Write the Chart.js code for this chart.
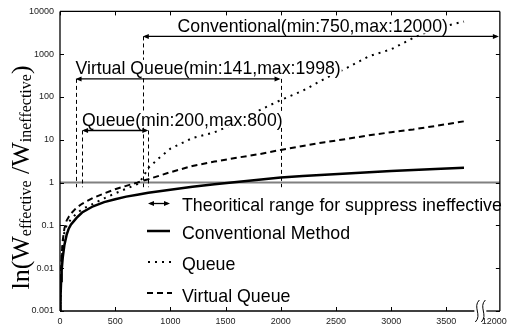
<!DOCTYPE html>
<html>
<head>
<meta charset="utf-8">
<script src="https://cdn.jsdelivr.net/npm/chart.js@4.4.0/dist/chart.umd.min.js"></script>
<style>
  html, body { margin: 0; padding: 0; background: #fff; }
</style>
</head>
<body>
<canvas id="chart" width="512" height="329"></canvas>
<script>
// window size (x) and the three methods (y, log scale)
const windowSizes = [2, 5, 10, 15, 25, 40, 60, 80, 100, 150, 200, 300, 400, 500, 600, 700, 750, 800, 900, 1000,
    1200, 1400, 1600, 1800, 2000, 2200, 2400, 2600, 2800, 3000, 3200, 3400, 3660];
const conventionalMethod = [0.001, 0.0022, 0.005, 0.009, 0.018, 0.035, 0.06, 0.085, 0.105, 0.15, 0.2, 0.28, 0.35, 0.41, 0.47, 0.52, 0.55, 0.58, 0.63, 0.68,
    0.8, 0.91, 1.03, 1.17, 1.32, 1.43, 1.53, 1.63, 1.74, 1.86, 1.97, 2.07, 2.22];
const queueMethod = [0.001, 0.0025, 0.007, 0.015, 0.035, 0.07, 0.1, 0.12, 0.14, 0.19, 0.24, 0.32, 0.43, 0.56, 0.72, 0.92, 1.3, 2.2, 3.8, 6.2,
    11, 15, 25, 48, 85, 140, 270, 480, 900, 1300, 2400, 4000, 5800];
const virtualQueueMethod = [0.001, 0.003, 0.009, 0.02, 0.045, 0.085, 0.13, 0.16, 0.19, 0.26, 0.32, 0.44, 0.56, 0.7, 0.84, 1.0, 1.1, 1.2, 1.45, 1.75,
    2.45, 3.1, 3.8, 4.6, 5.8, 7.2, 8.8, 10.5, 12.8, 15, 17.5, 21, 27];

// ticks
const xTickValues = [0, 500, 1000, 1500, 2000, 2500, 3000, 3500];
const xBreakLabel = '12000';
const yTickValues = [0.001, 0.01, 0.1, 1, 10, 100, 1000, 10000];

// theoretical ranges
const rangeNames = ['Conventional', 'Virtual Queue', 'Queue'];
const rangeMin = [750, 141, 200];
const rangeMax = [12000, 1998, 800];

const legendLabels = ['Theoritical range for suppress ineffective', 'Conventional Method', 'Queue', 'Virtual Queue'];

// layout bits (axis break, where arrows and labels sit)
const X_MAX = 3985;
const BREAK_TICK = 3935;
const rangeLevel = [2600, 265, 16.5];
const rangeTextAt = [1065, 141, 200];
const guideBottom = 0.78;

const SANS = '"Liberation Sans", Arial, sans-serif';
const SERIF = '"Liberation Serif", "Times New Roman", serif';

function toPoints(ys) {
    return windowSizes.map((w, i) => ({ x: w, y: ys[i] }));
}

function line(ctx, x1, y1, x2, y2) {
    ctx.beginPath();
    ctx.moveTo(x1, y1);
    ctx.lineTo(x2, y2);
    ctx.stroke();
}

function head(ctx, x, y, dir) {
    ctx.beginPath();
    ctx.moveTo(x, y);
    ctx.lineTo(x - dir * 6, y - 2.5);
    ctx.lineTo(x - dir * 6, y + 2.5);
    ctx.closePath();
    ctx.fill();
}

function arrow(ctx, x1, x2, y) {
    ctx.lineWidth = 1.3;
    line(ctx, x1 + 2, y, x2 - 2, y);
    head(ctx, x1, y, -1);
    head(ctx, x2, y, 1);
}

const decorations = {
    id: 'decorations',
    beforeDatasetsDraw(chart) {
        const { ctx, chartArea: a, scales: { x, y } } = chart;
        ctx.save();
        // gray reference line at 1
        ctx.strokeStyle = '#808080';
        ctx.lineWidth = 2;
        const y1 = y.getPixelForValue(1);
        line(ctx, a.left, y1, a.right, y1);

        // dashed guides of the ranges
        ctx.strokeStyle = '#000';
        ctx.lineWidth = 1;
        ctx.setLineDash([4, 3]);
        const yb = y.getPixelForValue(guideBottom);
        rangeMin.forEach((mn, i) => {
            const yl = y.getPixelForValue(rangeLevel[i]);
            [mn, rangeMax[i]].forEach(v => {
                if (v > X_MAX) return;
                const px = Math.round(x.getPixelForValue(v)) + 0.5;
                line(ctx, px, yl, px, yb);
            });
        });
        ctx.restore();
    },
    afterDatasetsDraw(chart) {
        const { ctx, chartArea: a, scales: { x, y } } = chart;
        ctx.save();
        ctx.fillStyle = '#000';
        ctx.strokeStyle = '#000';

        // range labels and arrows
        ctx.font = '17.7px ' + SANS;
        ctx.textBaseline = 'alphabetic';
        rangeNames.forEach((name, i) => {
            const text = name + '(min:' + rangeMin[i] + ',max:' + rangeMax[i] + ')';
            const yl = y.getPixelForValue(rangeLevel[i]);
            const tx = x.getPixelForValue(rangeTextAt[i]);
            const w = ctx.measureText(text).width;
            ctx.fillStyle = '#fff';
            ctx.fillRect(tx - 1, yl - 19, w + 2, 16);
            ctx.fillStyle = '#000';
            ctx.fillText(text, tx, yl - 4.5);
            const x1 = x.getPixelForValue(rangeMin[i]);
            const x2 = rangeMax[i] > X_MAX ? a.right - 1 : x.getPixelForValue(rangeMax[i]);
            arrow(ctx, x1, x2, yl);
        });

        // frame
        ctx.lineWidth = 1.3;
        line(ctx, a.left, a.top, a.left, a.bottom);
        line(ctx, a.left, a.top, a.right, a.top);
        line(ctx, a.right, a.top, a.right, a.bottom);
        const breakX = x.getPixelForValue(3790);
        line(ctx, a.left, a.bottom, breakX - 4, a.bottom);
        line(ctx, breakX + 8, a.bottom, a.right, a.bottom);

        // axis break marks
        ctx.lineWidth = 1;
        [breakX - 1, breakX + 5].forEach(bx => {
            ctx.beginPath();
            ctx.moveTo(bx + 2, a.bottom - 11);
            ctx.bezierCurveTo(bx - 5, a.bottom - 4, bx + 5, a.bottom + 4, bx - 2, a.bottom + 11);
            ctx.stroke();
        });

        // inward tick marks
        ctx.lineWidth = 1;
        xTickValues.forEach(v => {
            const px = Math.round(x.getPixelForValue(v)) + 0.5;
            line(ctx, px, a.bottom, px, a.bottom - 4);
            line(ctx, px, a.top, px, a.top + 4);
        });
        yTickValues.forEach(v => {
            const py = Math.round(y.getPixelForValue(v)) + 0.5;
            line(ctx, a.left, py, a.left + 4, py);
            line(ctx, a.right, py, a.right - 4, py);
        });

        // legend
        const lx1 = 148, lx2 = 170, tx = 182;
        const rows = [204, 232.5, 263, 295];
        const marks = [203.5, 231, 262, 293];
        ctx.font = '17.8px ' + SANS;
        legendLabels.forEach((lab, i) => {
            ctx.fillStyle = '#000';
            ctx.fillText(lab, tx, rows[i] + 6.5);
        });
        arrow(ctx, lx1, lx2, marks[0]);
        ctx.lineWidth = 2.5;
        line(ctx, lx1 - 1, marks[1], lx2, marks[1]);
        ctx.lineWidth = 2;
        ctx.setLineDash([2, 5]);
        line(ctx, lx1, marks[2], lx2 + 2, marks[2]);
        ctx.setLineDash([6, 4]);
        line(ctx, lx1 - 1, marks[3], lx2 + 2, marks[3]);
        ctx.setLineDash([]);

        // y axis title with subscripts
        const parts = [
            ['ln(W', 26, 0], ['effective', 16, 2.5], [' /W', 26, 0], ['ineffective', 16, 2.5], [')', 26, 0]
        ];
        let total = 0;
        parts.forEach(p => { ctx.font = p[1] + 'px ' + SERIF; total += ctx.measureText(p[0]).width; });
        ctx.translate(28.5, 177.5);
        ctx.rotate(-Math.PI / 2);
        ctx.textAlign = 'left';
        let cx = -total / 2;
        parts.forEach(p => {
            ctx.font = p[1] + 'px ' + SERIF;
            ctx.fillText(p[0], cx, p[2]);
            cx += ctx.measureText(p[0]).width;
        });
        ctx.restore();
    }
};

const lineStyle = { borderColor: '#000', pointRadius: 0, fill: false, tension: 0 };

new Chart(document.getElementById('chart'), {
    type: 'line',
    data: {
        datasets: [
            Object.assign({ label: 'Conventional Method', data: toPoints(conventionalMethod), borderWidth: 2.5 }, lineStyle),
            Object.assign({ label: 'Queue', data: toPoints(queueMethod), borderWidth: 2, borderDash: [2, 5] }, lineStyle),
            Object.assign({ label: 'Virtual Queue', data: toPoints(virtualQueueMethod), borderWidth: 2, borderDash: [6, 4] }, lineStyle)
        ]
    },
    options: {
        responsive: false,
        animation: false,
        devicePixelRatio: 1,
        layout: { padding: { top: 8, right: 11, left: 0, bottom: 0 } },
        plugins: { legend: { display: false }, tooltip: { enabled: false } },
        scales: {
            x: {
                type: 'linear',
                min: 0,
                max: X_MAX,
                grid: { display: false, drawTicks: false },
                border: { display: false },
                afterBuildTicks: scale => {
                    scale.ticks = xTickValues.concat([BREAK_TICK]).map(v => ({ value: v }));
                },
                afterFit: scale => { scale.height = 18; },
                ticks: {
                    padding: 5,
                    maxRotation: 0,
                    color: '#222',
                    font: { family: SANS, size: 9 },
                    callback: v => (v === BREAK_TICK ? xBreakLabel : String(v))
                }
            },
            y: {
                type: 'logarithmic',
                min: 0.001,
                max: 10000,
                grid: { display: false, drawTicks: false },
                border: { display: false },
                afterBuildTicks: scale => {
                    scale.ticks = yTickValues.map(v => ({ value: v }));
                },
                afterFit: scale => { scale.width = 60; },
                ticks: {
                    padding: 6,
                    color: '#222',
                    font: { family: SANS, size: 9 },
                    callback: v => String(v)
                }
            }
        }
    },
    plugins: [decorations]
});
</script>
</body>
</html>
